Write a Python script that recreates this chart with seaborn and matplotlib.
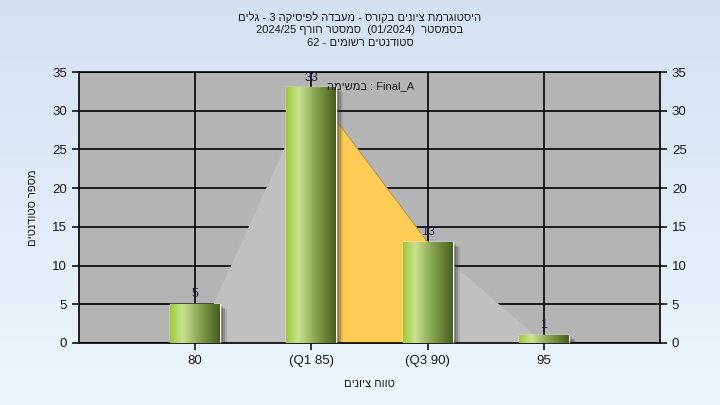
import numpy as np
import pandas as pd
import seaborn as sns
import matplotlib.pyplot as plt
from matplotlib.colors import LinearSegmentedColormap
from matplotlib.patches import Rectangle
from matplotlib import transforms


categories = ["80", "(Q1 85)", "(Q3 90)", "95"]
counts = [5, 33, 13, 1]
# outline of the distribution shape drawn behind the bars (min, Q1, Q3, max)
shape_vals = [0, 33, 13, 0]

title_lines = [
    "היסטוגרמת ציונים בקורס - מעבדה לפיסיקה 3 - גלים",
    "בסמסטר  (01/2024)  סמסטר חורף 2024/25",
    "סטודנטים רשומים - 62",
]
task_label = "Final_A : במשימה"
x_title = "טווח ציונים"
y_title = "מספר סטודנטים"


def rtl(s):
    # matplotlib lays text out left to right only: build the visual order
    out = []
    for w in s.split(" ")[::-1]:
        if any("\u0590" <= c <= "\u05ff" for c in w):
            w = w[::-1]
        out.append(w)
    return " ".join(out)


sns.set_style("white")
plt.rcParams["font.family"] = ["Liberation Sans", "DejaVu Sans"]
txt = "#1a1a1a"

fig = plt.figure(figsize=(7.2, 4.05), dpi=100)

# light blue gradient page background
bg = fig.add_axes([0, 0, 1, 1], zorder=-10)
grad = np.linspace(0, 1, 256).reshape(-1, 1)
bg_cmap = LinearSegmentedColormap.from_list("bg", ["#d4e1f2", "#eef6fd"])
bg.imshow(grad, aspect="auto", cmap=bg_cmap, extent=[0, 1, 0, 1], origin="upper")
bg.axis("off")

ax = fig.add_axes([0.1097, 0.1531, 0.807, 0.6691])
ax.set_facecolor("#b4b4b4")

df = pd.DataFrame({"range": categories, "count": counts})
sns.barplot(data=df, x="range", y="count", width=0.43, color="#8fb13c",
            ax=ax, zorder=3)

xs = np.arange(len(categories))
ax.fill_between(xs, shape_vals, color="#c0c0c0", zorder=1, lw=0)
ax.fill_between(xs, shape_vals, where=[False, True, True, False],
                color="#ffcc55", zorder=1.2, lw=0.6, edgecolor="#b09040")

bar_cmap = LinearSegmentedColormap.from_list(
    "bar", [(0, "#9ccb3c"), (0.25, "#c9e290"), (0.6, "#86a24e"), (1, "#4a5e1f")])
hgrad = np.linspace(0, 1, 128).reshape(1, -1)
for p in ax.patches[:]:
    if not isinstance(p, Rectangle):
        continue
    x0, w, h = p.get_x(), p.get_width(), p.get_height()
    if h <= 0:
        continue
    # soft drop shadow: a few offset layers
    for dx, dy, a in [(3, -2, 0.25), (5, -4, 0.25), (7, -5, 0.15)]:
        tr = transforms.offset_copy(ax.transData, fig=fig, x=dx, y=dy, units="dots")
        ax.add_patch(Rectangle((x0, 0), w, h, transform=tr, color="#303030",
                               alpha=a, zorder=2.5, lw=0))
    im = ax.imshow(hgrad, cmap=bar_cmap, aspect="auto",
                   extent=[x0, x0 + w, 0, h], zorder=3.1)
    im.set_clip_path(p)

for x, c in zip(xs, counts):
    ax.text(x, c + 0.5, str(c), ha="center", va="bottom", fontsize=9,
            color="#202040", zorder=4)

ax.text(1.13, 33.2, rtl(task_label), ha="left", va="center", fontsize=8,
        color=txt, zorder=4)

ax.set_xlim(-1, 4)
ax.set_ylim(0, 35)
ax.set_yticks(range(0, 36, 5))
ax.set_axisbelow(True)
ax.grid(True, color="black", lw=1.2, zorder=0.5)
for s in ax.spines.values():
    s.set_color("black")
    s.set_linewidth(1.2)
ax.tick_params(axis="both", direction="out", length=5, width=1.1,
               color="black", labelsize=9.5, labelcolor=txt)
ax.tick_params(axis="y", left=True, right=True, labelright=True)
ax.tick_params(axis="x", bottom=True, pad=4)

ax.set_xlabel(rtl(x_title), fontsize=8, color=txt, labelpad=8)
ax.set_ylabel(rtl(y_title), fontsize=8, color=txt, labelpad=10)

for line, y in zip(title_lines, [0.957, 0.925, 0.894]):
    fig.text(0.5, y, rtl(line), ha="center", va="center", fontsize=8, color=txt)

fig.savefig("out.png", dpi=100)
